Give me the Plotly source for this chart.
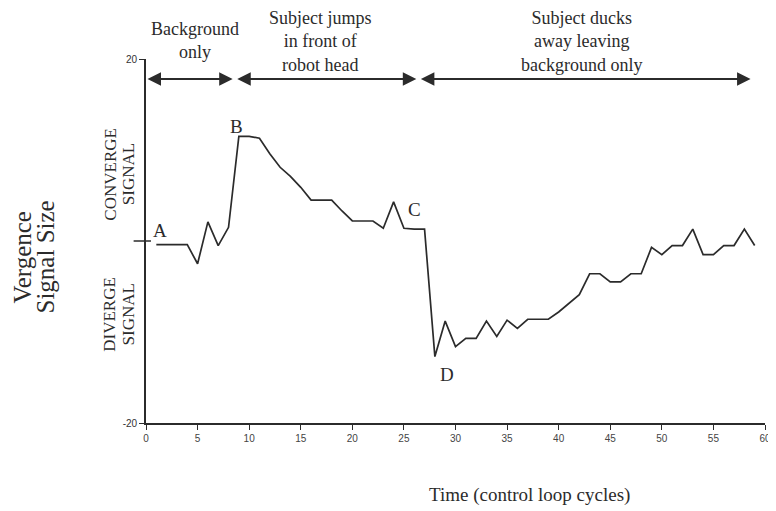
import plotly.graph_objects as go

time = list(range(1, 60))
signal = [-0.4, -0.4, -0.4, -0.4, -2.5, 2.1, -0.5, 1.5, 11.5, 11.5,
          11.3, 9.6, 8.1, 7.1, 5.9, 4.5, 4.5, 4.5, 3.3, 2.2,
          2.2, 2.2, 1.4, 4.3, 1.4, 1.3, 1.3, -12.7, -8.8, -11.6,
          -10.7, -10.7, -8.8, -10.5, -8.7, -9.6, -8.6, -8.6, -8.6, -7.8,
          -6.8, -5.9, -3.6, -3.6, -4.5, -4.5, -3.6, -3.6, -0.7, -1.5,
          -0.5, -0.5, 1.3, -1.5, -1.5, -0.5, -0.5, 1.3, -0.5]

x_ticks = list(range(0, 61, 5))
y_ticks = [20, -20]
y_tick_text = ["20", "-20"]

phase_labels = ["Background<br>only", "Subject jumps<br>in front of<br>robot head",
                "Subject ducks<br>away leaving<br>background only"]
phase_start = [0, 8.7, 26.5]
phase_end = [8.4, 26.2, 58.6]
phase_center = [4.75, 16.9, 42.2]

point_labels = ["A", "B", "C", "D"]
point_x = [1.4, 8.8, 26.0, 29.2]
point_y = [1.1, 12.6, 3.5, -14.7]

x_title = "Time (control loop cycles)"
y_title_lines = ["Vergence", "Signal Size"]
converge_lines = ["CONVERGE", "SIGNAL"]
diverge_lines = ["DIVERGE", "SIGNAL"]

SERIF = "Liberation Serif, Times New Roman, serif"
INK = "#2b2b2b"

fig = go.Figure()
fig.add_trace(go.Scatter(x=time, y=signal, mode="lines",
                         line=dict(color=INK, width=1.7), showlegend=False,
                         cliponaxis=False))

ann = []
for lab, x, y in zip(point_labels, point_x, point_y):
    ann.append(dict(x=x, y=y, xref="x", yref="y", text=lab, showarrow=False,
                    font=dict(family=SERIF, size=19, color=INK)))

for i, (s, e, c, lab) in enumerate(zip(phase_start, phase_end, phase_center, phase_labels)):
    ann.append(dict(x=e, y=17.8, ax=s, ay=17.8, xref="x", yref="y", axref="x", ayref="y",
                    text="", showarrow=True, arrowhead=2, arrowside="end+start",
                    arrowsize=1.5, arrowwidth=1.8, arrowcolor=INK, standoff=0, startstandoff=0))
    ann.append(dict(x=c, y=1.052 if i == 0 else 1.047, xref="x", yref="paper", text=lab,
                    showarrow=False, xanchor="center", yanchor="middle", align="center",
                    font=dict(family=SERIF, size=18, color=INK)))

# x-axis title (offset to the right as in the original)
ann.append(dict(x=37.2, y=-0.198, xref="x", yref="paper", text=x_title, showarrow=False,
                xanchor="center", yanchor="middle",
                font=dict(family=SERIF, size=19, color=INK)))

# rotated y-axis titles, one annotation per line (tight leading as in the original)
for j, line in enumerate(y_title_lines):
    ann.append(dict(x=[-0.200, -0.163][j], y=0.455, xref="paper", yref="paper", text=line,
                    showarrow=False, textangle=-90, xanchor="center", yanchor="middle",
                    font=dict(family=SERIF, size=25, color=INK)))
for j, line in enumerate(converge_lines):
    ann.append(dict(x=[-0.058, -0.028][j], y=7.3, xref="paper", yref="y", text=line,
                    showarrow=False, textangle=-90, xanchor="center", yanchor="middle",
                    font=dict(family=SERIF, size=17, color=INK)))
for j, line in enumerate(diverge_lines):
    ann.append(dict(x=[-0.058, -0.028][j], y=-8.1, xref="paper", yref="y", text=line,
                    showarrow=False, textangle=-90, xanchor="center", yanchor="middle",
                    font=dict(family=SERIF, size=17, color=INK)))

fig.update_layout(
    width=776, height=511,
    margin=dict(l=138, r=19, t=51, b=96),
    paper_bgcolor="white", plot_bgcolor="white",
    annotations=ann,
    shapes=[dict(type="line", xref="paper", yref="y", x0=-0.02, x1=0.008, y0=0, y1=0,
                 line=dict(color=INK, width=1.5))],
    xaxis=dict(range=[0, 60], tickvals=x_ticks, ticks="outside", ticklen=5, tickwidth=1.2,
               tickcolor=INK, showline=True, linecolor=INK, linewidth=1.8, showgrid=False,
               zeroline=False, automargin=False,
               tickfont=dict(family="Liberation Sans, Arial", size=10, color="#444")),
    yaxis=dict(range=[-20, 20], tickvals=y_ticks, ticktext=y_tick_text, ticks="outside",
               ticklen=5, tickwidth=1.2, tickcolor=INK, showline=True, linecolor=INK,
               linewidth=1.8, showgrid=False, zeroline=False, automargin=False,
               tickfont=dict(family="Liberation Sans, Arial", size=10, color="#333")),
)

fig.write_html("out.html")
